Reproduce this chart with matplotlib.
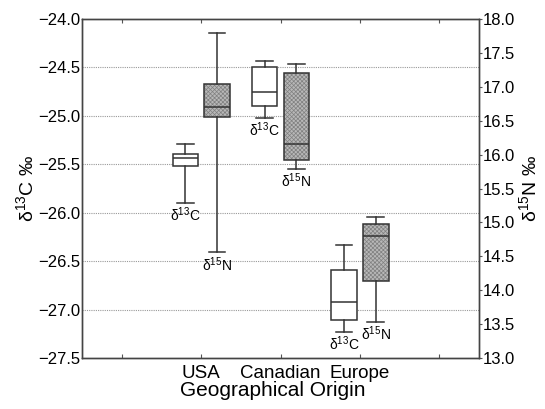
import matplotlib
matplotlib.use("Agg")
import matplotlib.pyplot as plt
from matplotlib.patches import PathPatch
import numpy as np

plt.rcParams['font.family'] = ['Liberation Sans', 'DejaVu Sans']
plt.rcParams['mathtext.fontset'] = 'custom'
plt.rcParams['mathtext.rm'] = 'Liberation Sans'
plt.rcParams['hatch.linewidth'] = 0.5

# Data (whisker low, Q1, median, Q3, whisker high)
origins = ['USA', 'Canadian', 'Europe']
c13_low = [-25.90, -25.02, -27.23]
c13_q1 = [-25.52, -24.90, -27.11]
c13_med = [-25.43, -24.75, -26.92]
c13_q3 = [-25.39, -24.50, -26.59]
c13_high = [-25.29, -24.43, -26.33]

n15_low = [14.56, 15.79, 13.53]
n15_q1 = [16.56, 15.92, 14.14]
n15_med = [16.70, 16.16, 14.80]
n15_q3 = [17.04, 17.21, 14.98]
n15_high = [17.80, 17.33, 15.08]

group_pos = np.array([2, 3, 4])
offset = 0.2
box_w = 0.32

fig = plt.figure(figsize=(5.45, 4.09), dpi=100)
ax = fig.add_axes([0.1505, 0.1247, 0.7285, 0.8288])
ax2 = ax.twinx()


def stats(low, q1, med, q3, high):
    return [dict(whislo=a, q1=b, med=c, q3=d, whishi=e, fliers=[])
            for a, b, c, d, e in zip(low, q1, med, q3, high)]


edge = '#333333'
line_kw = dict(color=edge, linewidth=1.1)
ax.bxp(stats(c13_low, c13_q1, c13_med, c13_q3, c13_high),
       positions=group_pos - offset, widths=box_w, capwidths=0.21,
       patch_artist=True, showfliers=False,
       boxprops=dict(facecolor='white', edgecolor=edge, linewidth=1.1),
       medianprops=line_kw, whiskerprops=line_kw, capprops=line_kw,
       manage_ticks=False)

# gray textured boxes: hatch drawn in mid gray, outline redrawn dark on top
res = ax2.bxp(stats(n15_low, n15_q1, n15_med, n15_q3, n15_high),
              positions=group_pos + offset, widths=box_w, capwidths=0.21,
              patch_artist=True, showfliers=False,
              boxprops=dict(facecolor='#b8b8b8', edgecolor='#808080',
                            linewidth=0, hatch='xxxxxxxx'),
              medianprops=line_kw, whiskerprops=line_kw, capprops=line_kw,
              manage_ticks=False)
for p in res['boxes']:
    ax2.add_patch(PathPatch(p.get_path(), fill=False, edgecolor=edge,
                            linewidth=1.1, zorder=p.get_zorder() + 0.1))

# labels under each box
for x, lo in zip(group_pos - offset, c13_low):
    ax.annotate(r'δ$^{13}$C', (x, lo), xytext=(0, -2), textcoords='offset points',
                ha='center', va='top', fontsize=10)
for x, lo in zip(group_pos + offset, n15_low):
    ax2.annotate(r'δ$^{15}$N', (x, lo), xytext=(0, -2), textcoords='offset points',
                 ha='center', va='top', fontsize=10)

ax.set_xlim(0.5, 5.5)
ax.set_ylim(-27.5, -24.0)
ax2.set_ylim(13.0, 18.0)

left_ticks = np.arange(-27.5, -23.9, 0.5)
ax.set_yticks(left_ticks)
ax.set_yticklabels([f'{v:.1f}'.replace('-', '\u2212') for v in left_ticks])
right_ticks = np.arange(13.0, 18.01, 0.5)
ax2.set_yticks(right_ticks)
ax2.set_yticklabels([f'{v:.1f}' for v in right_ticks])

ax.set_xticks([1, 2, 3, 4, 5])
ax.set_xticklabels([])
ax.tick_params(axis='x', direction='in', length=3, top=True, color='#555555')
ax.tick_params(axis='y', length=0, labelsize=12, pad=1)
ax2.tick_params(axis='y', length=2, labelsize=12, pad=1, color='#555555')

for y in np.arange(-27.0, -24.4, 0.5):
    ax.axhline(y, color='#999999', linestyle=(0, (1, 1)), linewidth=0.8, zorder=0)

for sp in list(ax.spines.values()) + list(ax2.spines.values()):
    sp.set_color('#444444')
    sp.set_linewidth(1.0)

for x, name in zip(group_pos, origins):
    ax.annotate(name, (x, -27.5), xytext=(0, -5), textcoords='offset points',
                ha='center', va='top', fontsize=13.5)
fig.text(0.5, 1 - 390 / 409, 'Geographical Origin', ha='center', va='center',
         fontsize=15)
ax.set_ylabel(r'δ$^{13}$C ‰', fontsize=14, labelpad=0)
ax2.set_ylabel(r'δ$^{15}$N ‰', fontsize=14, labelpad=2)

fig.savefig('out.png', dpi=100)
